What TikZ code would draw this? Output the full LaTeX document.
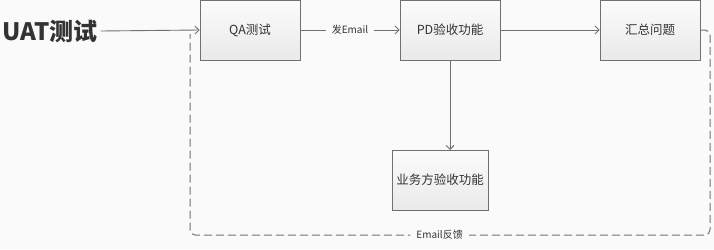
\documentclass[tikz,border=0pt]{standalone}
\usepackage{fontspec}
\setmainfont{Noto Sans CJK SC}
\usetikzlibrary{arrows.meta}
\definecolor{linegray}{HTML}{707070}
\definecolor{textgray}{HTML}{333333}
\definecolor{bggray}{HTML}{FAFAFA}
\tikzset{
  box/.style={draw=linegray,line width=0.9pt,top color=gray!3,bottom color=gray!17,
    minimum width=100pt,minimum height=60pt,inner sep=2pt,text=textgray,
    font=\fontsize{12.5}{14}\selectfont},
  link/.style={draw=linegray,line width=0.9pt,-{Straight Barb[length=4pt,width=8pt]}},
  feedback/.style={draw=linegray,line width=1pt,dash pattern=on 8pt off 4pt,rounded corners=5pt},
  tag/.style={fill=bggray,text=textgray,inner xsep=6pt,font=\fontsize{10}{12}\selectfont}
}
\begin{document}
\begin{tikzpicture}[x=1pt,y=-1pt]
\fill[bggray] (0,0) rectangle (714,249);
\useasboundingbox (0,0) rectangle (714,249);
% top row
\node[anchor=west,inner sep=0pt,text=textgray,font=\fontsize{24}{26}\selectfont\bfseries] (uat) at (2,31) {UAT测试};
\node[box] (qa) at (250,30) {QA测试};
\node[box] (pd) at (450,30) {PD验收功能};
\node[box] (sum) at (650,30) {汇总问题};
% bottom box
\node[box,minimum width=96pt] (biz) at (440,180) {业务方验收功能};
\draw[link] ([xshift=3pt]uat.east) -- (qa.west);
\draw[link] (qa.east) -- node[tag] (mail) {发Email} (pd.west);
\draw[link] (pd.east) -- (sum.west);
\draw[link] (pd.south -| 450,0) -- (450,150);
% feedback loop
\coordinate (back) at (190,34);
\draw[feedback] (sum.east) -- (710,30) -- (710,235) -- node[tag,pos=0.52] (fb) {Email反馈} (190,235) -- (back);
\end{tikzpicture}
\end{document}
